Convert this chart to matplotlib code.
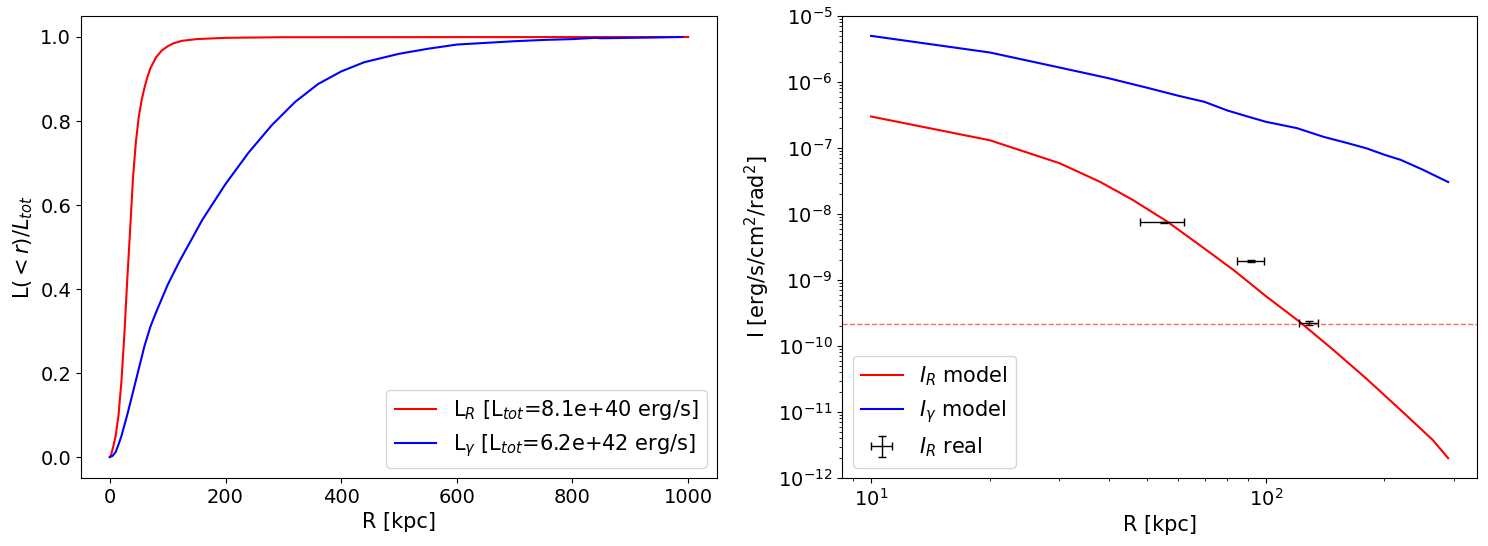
import matplotlib.pyplot as plt

# cumulative luminosity profiles (left panel)
r_cum_r = [0, 2, 5, 10, 15, 20, 25, 30, 35, 40, 45, 50, 55, 60, 65, 70, 80, 90, 100, 110, 125, 150,
           200, 300, 1000]
L_radio = [0, 0.005, 0.02, 0.05, 0.10, 0.18, 0.29, 0.42, 0.54, 0.665, 0.75, 0.81, 0.85, 0.88, 0.905,
           0.925, 0.952, 0.968, 0.978, 0.985, 0.991, 0.995, 0.998, 0.9995, 1.0]

r_cum_g = [0, 5, 10, 15, 20, 30, 40, 50, 60, 70, 80, 100, 120, 140, 160, 200, 240, 280, 320, 360,
           400, 440, 500, 550, 600, 650, 700, 750, 800, 840, 850, 900, 950, 990]
L_gamma = [0, 0.003, 0.012, 0.03, 0.05, 0.10, 0.155, 0.21, 0.265, 0.31, 0.345, 0.41, 0.465, 0.515,
           0.565, 0.65, 0.725, 0.79, 0.845, 0.888, 0.918, 0.94, 0.96, 0.972, 0.982, 0.986, 0.99, 0.993,
           0.995, 0.998, 0.997, 0.998, 0.999, 1.0]

# surface brightness profiles (right panel)
r_radio = [10, 20, 30, 38, 46, 56, 68, 83, 100, 122, 148, 180, 218, 265, 290]
I_radio = [3.0e-7, 1.31e-7, 5.9e-8, 3.08e-8, 1.64e-8, 7.85e-9, 3.39e-9, 1.41e-9, 5.73e-10, 2.32e-10,
           8.85e-11, 3.2e-11, 1.12e-11, 3.78e-12, 2.0e-12]

r_gamma = [10, 20, 30, 40, 50, 60, 70, 80, 90, 100, 120, 140, 160, 180, 200, 220, 250, 290]
I_gamma = [5.0e-6, 2.8e-6, 1.66e-6, 1.14e-6, 8.2e-7, 6.2e-7, 5.0e-7, 3.7e-7, 3.0e-7, 2.5e-7, 2.0e-7,
           1.48e-7, 1.2e-7, 9.9e-8, 7.9e-8, 6.6e-8, 4.7e-8, 3.05e-8]

# observed radio points
r_obs = [55.3, 92.0, 128.8]
r_obs_lo = [7.3, 7.5, 7.4]
r_obs_hi = [6.8, 7.0, 6.8]
I_obs = [7.5e-9, 1.93e-9, 2.25e-10]
I_obs_err = [2e-10, 8e-11, 1.6e-11]
I_limit = 2.18e-10

plt.rcParams['font.size'] = 14

fig = plt.figure(figsize=(14.88, 5.46), dpi=100)
ax1 = fig.add_axes([0.0544, 0.1245, 0.4275, 0.8462])
ax2 = fig.add_axes([0.566, 0.1245, 0.4266, 0.8462])

ax1.plot(r_cum_r, L_radio, color='red', label=r'L$_R$ [L$_{tot}$=8.1e+40 erg/s]')
ax1.plot(r_cum_g, L_gamma, color='blue', label=r'L$_\gamma$ [L$_{tot}$=6.2e+42 erg/s]')
ax1.set_xlabel('R [kpc]', fontsize=15)
ax1.set_ylabel(r'L$(<r)/L_{tot}$', fontsize=15)
ax1.legend(loc='lower right', fontsize=15)

ax2.plot(r_radio, I_radio, color='red', label=r'$I_R$ model')
ax2.plot(r_gamma, I_gamma, color='blue', label=r'$I_\gamma$ model')
ax2.errorbar(r_obs, I_obs, xerr=[r_obs_lo, r_obs_hi], yerr=I_obs_err, fmt='none',
             ecolor='black', elinewidth=1, capsize=3, label=r'$I_R$ real')
ax2.axhline(I_limit, color='red', ls='--', lw=1, alpha=0.6)
ax2.set_xscale('log')
ax2.set_yscale('log')
ax2.set_ylim(1e-12, 1e-5)
ax2.set_xlabel('R [kpc]', fontsize=15)
ax2.set_ylabel(r'I [erg/s/cm$^2$/rad$^2$]', fontsize=15)
ax2.legend(loc='lower left', fontsize=15)

fig.savefig('out.png', dpi=100)
